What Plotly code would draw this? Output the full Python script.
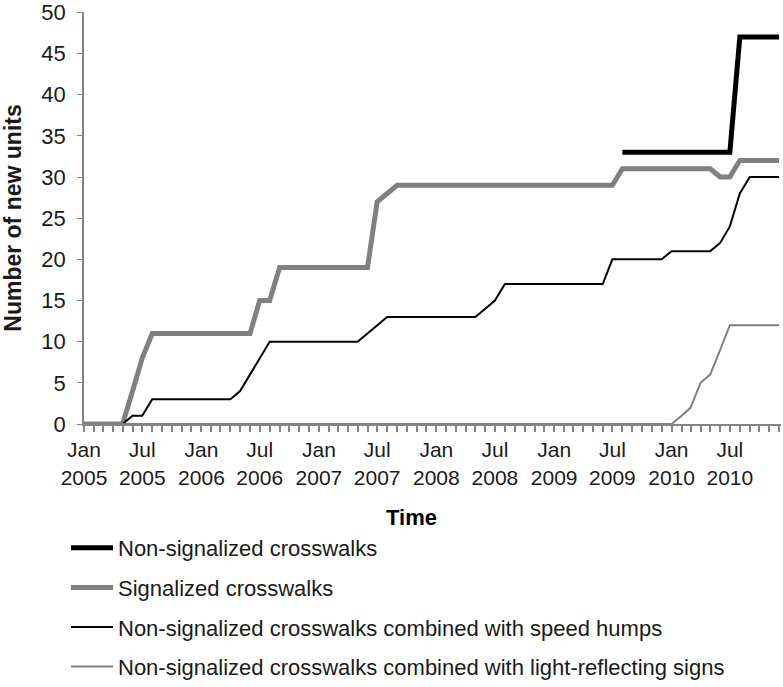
import pandas as pd
import plotly.graph_objects as go

months = pd.date_range("2005-01-01", "2010-12-01", freq="MS").strftime("%Y-%m-%d").tolist()

non_signalized = [None] * 55 + [33] * 12 + [47] * 5
signalized = [0, 0, 0, 0, 0, 4, 8, 11, 11, 11,
              11, 11, 11, 11, 11, 11, 11, 11, 15, 15,
              19, 19, 19, 19, 19, 19, 19, 19, 19, 19,
              27, 28, 29, 29, 29, 29, 29, 29, 29, 29,
              29, 29, 29, 29, 29, 29, 29, 29, 29, 29,
              29, 29, 29, 29, 29, 31, 31, 31, 31, 31,
              31, 31, 31, 31, 31, 30, 30, 32, 32, 32,
              32, 32]
speed_humps = [0, 0, 0, 0, 0, 1, 1, 3, 3, 3,
               3, 3, 3, 3, 3, 3, 4, 6, 8, 10,
               10, 10, 10, 10, 10, 10, 10, 10, 10, 11,
               12, 13, 13, 13, 13, 13, 13, 13, 13, 13,
               13, 14, 15, 17, 17, 17, 17, 17, 17, 17,
               17, 17, 17, 17, 20, 20, 20, 20, 20, 20,
               21, 21, 21, 21, 21, 22, 24, 28, 30, 30,
               30, 30]
light_signs = [0] * 61 + [1, 2, 5, 6, 9, 12, 12, 12, 12, 12, 12]

series_names = ["Non-signalized crosswalks",
                "Signalized crosswalks",
                "Non-signalized crosswalks combined with speed humps",
                "Non-signalized crosswalks combined with light-reflecting signs"]

tick_idx = pd.date_range("2005-01-01", "2010-07-01", freq="6MS")
tick_dates = tick_idx.strftime("%Y-%m-%d").tolist()
tick_text = [f"{d.strftime('%b')}<br>{d.year}" for d in tick_idx]
y_ticks = list(range(0, 51, 5))

FONT = "Liberation Sans, Arial, sans-serif"
AXIS_COLOR = "#868686"
TOP = 12
PLOT_H = 424 - TOP

fig = go.Figure()
styles = [("#000000", 5), ("#808080", 5), ("#000000", 2), ("#808080", 2)]
for i, (vals, name, (col, w)) in enumerate(zip(
        [non_signalized, signalized, speed_humps, light_signs], series_names, styles)):
    fig.add_trace(go.Scatter(x=months, y=vals, name=name, mode="lines",
                             line=dict(color=col, width=w),
                             legendgroup=f"g{i}", connectgaps=False))

fig.update_layout(
    width=783, height=687,
    margin=dict(l=84, r=2, t=TOP, b=263, autoexpand=False),
    paper_bgcolor="white", plot_bgcolor="white",
    font=dict(family=FONT, size=21, color="#1a1a1a"),
    showlegend=True,
    legend=dict(x=(66 - 84) / 697, y=(424 - 527) / PLOT_H,
                xanchor="left", yanchor="top", font=dict(size=22, color="#1a1a1a"),
                tracegroupgap=8, itemwidth=42, bgcolor="rgba(0,0,0,0)"),
    xaxis=dict(type="date", range=["2005-01-01", "2010-12-07"],
               tickvals=tick_dates, ticktext=tick_text,
               showline=True, linecolor=AXIS_COLOR, linewidth=2,
               ticks="outside", ticklen=6, tickcolor=AXIS_COLOR, tickwidth=1.5,
               minor=dict(dtick="M1", tick0="2005-01-01", ticks="outside", ticklen=6,
                          tickcolor=AXIS_COLOR, tickwidth=1.5, showgrid=False),
               showgrid=False, zeroline=False, tickfont=dict(size=21),
               tickangle=0),
    yaxis=dict(range=[0, 50.05], tickmode="array", tickvals=y_ticks,
               showline=True, linecolor=AXIS_COLOR,
               linewidth=1.5, ticks="outside", ticklen=5, tickcolor=AXIS_COLOR,
               showgrid=False, zeroline=False, tickfont=dict(size=22),
               ticklabelstandoff=7, ticklabeloverflow="allow",
               title=dict(text="<b>Number of new units</b>", font=dict(size=23),
                          standoff=13)),
)
fig.add_annotation(text="<b>Time</b>", xref="paper", yref="paper",
                   x=(411 - 84) / 697, y=(424 - 517) / PLOT_H,
                   showarrow=False, font=dict(size=22, color="#000000"),
                   xanchor="center", yanchor="middle")

fig.write_html("out.html", config={"displayModeBar": False},
               post_script="document.body.style.margin='0';")
